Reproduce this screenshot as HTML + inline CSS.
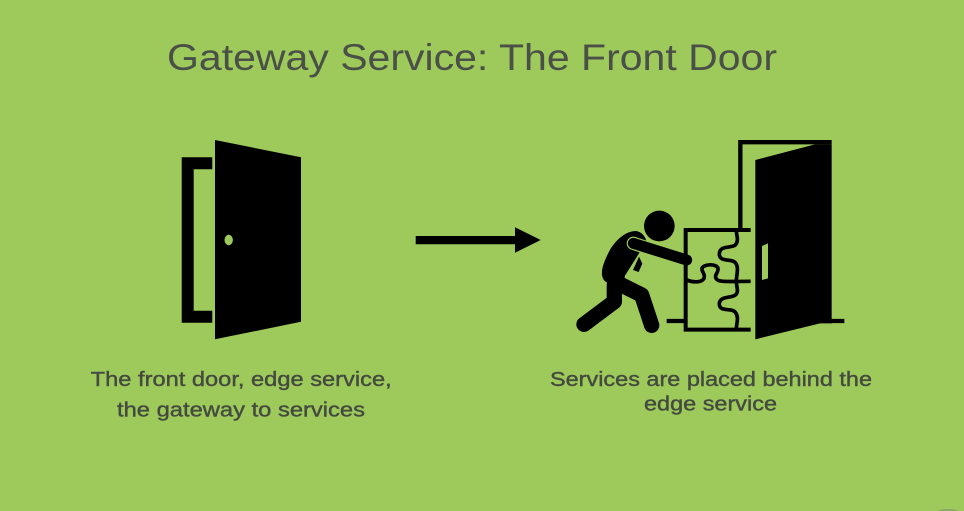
<!DOCTYPE html>
<html><head><meta charset="utf-8"><style>
html,body{margin:0;padding:0;background:#9dca5b;width:964px;height:511px;overflow:hidden}
svg{display:block}
text{font-family:"Liberation Sans",sans-serif;fill:#444a3f}
.l{font-size:20.5px;stroke:#444a3f;stroke-width:.4px}
</style></head><body>
<svg width="964" height="511" viewBox="0 0 964 511" xmlns="http://www.w3.org/2000/svg">
<rect width="964" height="511" fill="#9dca5b"/>
<ellipse cx="948" cy="512" rx="11" ry="3" fill="#8aa86a"/>
<text x="167" y="70" font-size="37" textLength="610" lengthAdjust="spacingAndGlyphs" style="fill:#4a4f47">Gateway Service: The Front Door</text>

<path d="M212.3 157.3H181.7V322.7H212.3V310.7H193.7V169.3H212.3Z" fill="#000"/>
<path d="M215 140L301 157.3V321.7L215 339.3Z" fill="#000"/>
<ellipse cx="228.7" cy="240" rx="4.2" ry="5.2" fill="#9dca5b"/>

<path d="M415.7 236H515V227.3L540.7 240L515 252.7V244.3H415.7Z" fill="#000"/>

<g transform="translate(560 130) scale(.33333)">
<path d="M541 298V36.5H815" fill="none" stroke="#000" stroke-width="13"/>
<path d="M586 90L765 43H815V580H780L586 628Z" fill="#000"/>
<path d="M606 348L624 340V445L606 450Z" fill="#9dca5b"/>
<path d="M810 573H853M320 573H378" fill="none" stroke="#000" stroke-width="13"/>
<path d="M572 300H377V599H572" fill="none" stroke="#000" stroke-width="12"/>
<g fill="none" stroke="#000" stroke-width="11">
<path d="M529 302C529 318 538 330 526 345C515 355 478 345 478 372C478 398 516 385 526 398C538 412 529 435 529 454"/>
<path d="M529 454C529 472 538 485 526 495C515 505 478 497 478 522C478 548 516 532 526 547C538 562 529 580 529 598"/>
<path d="M380 450C400 458 425 458 432 445C437 432 424 425 426 415C430 402 470 400 474 415C476 428 462 435 468 445C475 458 500 454 572 454"/>
</g>
</g>

<g transform="translate(570 205) scale(.33333)">
<circle cx="268" cy="63" r="46" fill="#000"/>
<path d="M195 78C165 80 136 106 118 138C103 168 94 190 96 210C98 226 108 232 118 236V300H150L165 212L207 145L228 105C224 90 210 78 195 78Z" fill="#000"/>
<path d="M207 155L217 176L206 201L189 195Z" fill="#000"/>
<path d="M42 358L133 290V240" fill="none" stroke="#000" stroke-width="46" stroke-linecap="round" stroke-linejoin="round"/>
<path d="M145 235L215 270L245 361" fill="none" stroke="#000" stroke-width="46" stroke-linecap="round" stroke-linejoin="round"/>
<path d="M190 115L230 128" fill="none" stroke="#9dca5b" stroke-width="40" stroke-linecap="round"/>
<path d="M190 115L350 165" fill="none" stroke="#000" stroke-width="33" stroke-linecap="round"/>
</g>

<text class="l" x="90.7" y="386" textLength="301" lengthAdjust="spacingAndGlyphs">The front door, edge service,</text>
<text class="l" x="117" y="416.7" textLength="248" lengthAdjust="spacingAndGlyphs">the gateway to services</text>
<text class="l" x="550" y="386" textLength="322" lengthAdjust="spacingAndGlyphs">Services are placed behind the</text>
<text class="l" x="644" y="410.7" textLength="133" lengthAdjust="spacingAndGlyphs">edge service</text>
</svg>
</body></html>
